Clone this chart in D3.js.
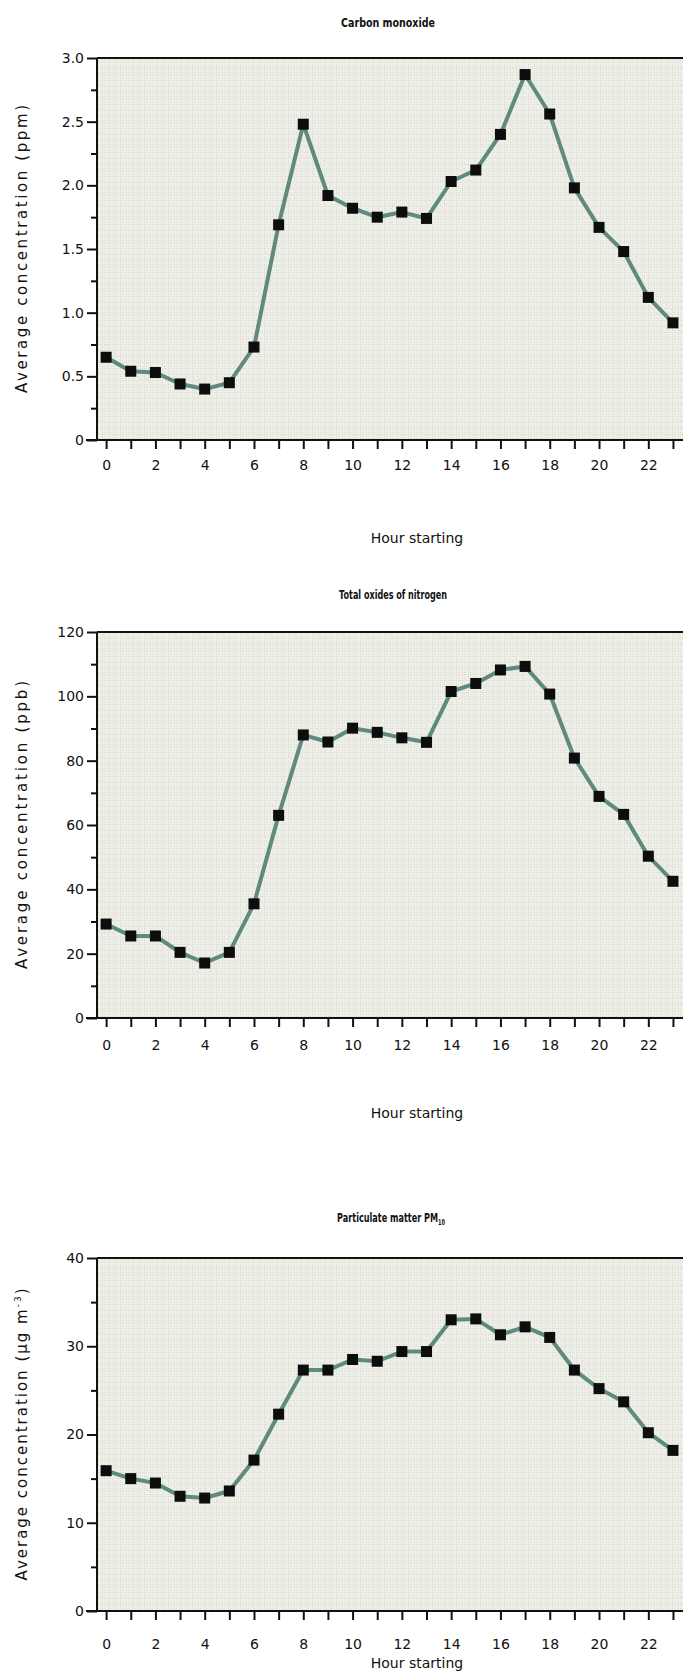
<!DOCTYPE html>
<html>
<head>
<meta charset="utf-8">
<script src="https://cdn.jsdelivr.net/npm/d3@7"></script>
<style>
  html, body { margin: 0; padding: 0; background: #fff; overflow: hidden; }
  svg { display: block; }
  text { font-family: "DejaVu Sans", sans-serif; fill: #111; }
</style>
</head>
<body>
<svg id="chart" width="683" height="1671"></svg>
<script>
// Hour of day (hour starting)
const hours = [0, 1, 2, 3, 4, 5, 6, 7, 8, 9, 10, 11, 12, 13, 14, 15, 16, 17, 18, 19, 20, 21, 22, 23];
const hourTickLabels = [0, 2, 4, 6, 8, 10, 12, 14, 16, 18, 20, 22];

// Carbon monoxide, ppm
const coValues = [0.65, 0.54, 0.53, 0.44, 0.40, 0.45, 0.73, 1.69, 2.48, 1.92, 1.82, 1.75,
                  1.79, 1.74, 2.03, 2.12, 2.40, 2.87, 2.56, 1.98, 1.67, 1.48, 1.12, 0.92];
const coTicks = [0, 0.5, 1.0, 1.5, 2.0, 2.5, 3.0];
const coMinorTicks = [0.25, 0.75, 1.25, 1.75, 2.25, 2.75];

// Total oxides of nitrogen, ppb
const noxValues = [29.2, 25.5, 25.5, 20.4, 17.1, 20.4, 35.5, 63.0, 88.0, 85.8, 90.1, 88.8,
                   87.1, 85.7, 101.5, 104.0, 108.2, 109.3, 100.7, 80.8, 68.9, 63.3, 50.3, 42.5];
const noxTicks = [0, 20, 40, 60, 80, 100, 120];
const noxMinorTicks = [10, 30, 50, 70, 90, 110];

// Particulate matter PM10, µg m-3
const pmValues = [15.9, 15.0, 14.5, 13.0, 12.8, 13.6, 17.1, 22.3, 27.3, 27.3, 28.5, 28.3,
                  29.4, 29.4, 33.0, 33.1, 31.3, 32.2, 31.0, 27.3, 25.2, 23.7, 20.2, 18.2];
const pmTicks = [0, 10, 20, 30, 40];
const pmMinorTicks = [5, 15, 25, 35];

const svg = d3.select("#chart");

// stippled plot background
const defs = svg.append("defs");
const pat = defs.append("pattern")
  .attr("id", "stipple")
  .attr("patternUnits", "userSpaceOnUse")
  .attr("width", 6).attr("height", 6);
pat.append("rect").attr("width", 6).attr("height", 6).attr("fill", "#eef0e8");
[[0,0],[2,0],[0,2],[0,4],[2,2],[4,2]].forEach(([px, py]) =>
  pat.append("rect").attr("x", px).attr("y", py).attr("width", 1).attr("height", 1).attr("fill", "#d6dad0"));

const xLeft = 97, xRight = 705;
const x = d3.scaleLinear().domain([-0.37, 24.3]).range([xLeft, xRight]);

const panels = [
  { title: "Carbon monoxide", titleW: 94, titleX: 388, sub: null,
    unit: "(ppm)", unitSup: null, labelW: 288,
    values: coValues, ticks: coTicks, minor: coMinorTicks, max: 3.0,
    fmt: d => d === 0 ? "0" : d.toFixed(1),
    top: 58, bottom: 440, titleY: 27, hourY: 543, xPad: 11 },
  { title: "Total oxides of nitrogen", titleW: 108, titleX: 393, sub: null,
    unit: "(ppb)", unitSup: null, labelW: 288,
    values: noxValues, ticks: noxTicks, minor: noxMinorTicks, max: 120,
    fmt: d => String(d),
    top: 632, bottom: 1018, titleY: 599, hourY: 1118, xPad: 13 },
  { title: "Particulate matter PM", titleW: 108, titleX: 391, sub: "10",
    unit: "(µg m", unitSup: "-3", labelW: 292,
    values: pmValues, ticks: pmTicks, minor: pmMinorTicks, max: 40,
    fmt: d => String(d),
    top: 1258, bottom: 1611, titleY: 1222, hourY: 1668, xPad: 19 }
];

panels.forEach(p => {
  const g = svg.append("g");
  const y = d3.scaleLinear().domain([0, p.max]).range([p.bottom, p.top]);

  // plot area
  g.append("rect")
    .attr("x", xLeft).attr("y", p.top)
    .attr("width", xRight - xLeft).attr("height", p.bottom - p.top)
    .attr("fill", "url(#stipple)");
  g.append("line")
    .attr("x1", xLeft).attr("x2", xRight).attr("y1", p.top).attr("y2", p.top)
    .attr("stroke", "#111").attr("stroke-width", 2);

  // y axis: major and minor ticks
  const yAxis = g.append("g").attr("transform", `translate(${xLeft},0)`)
    .call(d3.axisLeft(y).tickValues(p.ticks).tickSize(10).tickPadding(3).tickFormat(p.fmt));
  g.append("g").attr("transform", `translate(${xLeft},0)`)
    .call(d3.axisLeft(y).tickValues(p.minor).tickSize(6).tickFormat(""))
    .call(a => a.select(".domain").remove());
  yAxis.select(".domain").attr("stroke", "#111").attr("stroke-width", 2)
    .attr("d", `M0,${p.bottom}V${p.top}`);
  g.selectAll(".tick line").attr("stroke", "#111").attr("stroke-width", 2);
  yAxis.selectAll(".tick text").attr("font-size", 14).attr("fill", "#111");

  // x axis
  const xAxis = g.append("g").attr("transform", `translate(0,${p.bottom})`)
    .call(d3.axisBottom(x).tickValues(hours).tickSize(9).tickPadding(p.xPad)
      .tickFormat(h => hourTickLabels.includes(h) ? String(h) : ""));
  xAxis.select(".domain").attr("stroke", "#111").attr("stroke-width", 2)
    .attr("d", `M${xLeft - 11},0H${xRight}`);
  xAxis.selectAll(".tick line").attr("stroke", "#111").attr("stroke-width", 2);
  xAxis.selectAll(".tick text").attr("font-size", 14).attr("fill", "#111");

  // series line
  const line = d3.line().x((d, i) => x(hours[i])).y(d => y(d));
  g.append("path").datum(p.values)
    .attr("d", line).attr("fill", "none")
    .attr("stroke", "#5f8a7c").attr("stroke-width", 4).attr("stroke-linejoin", "round");

  // square markers
  const s = 11;
  g.selectAll("rect.marker").data(p.values).join("rect")
    .attr("class", "marker")
    .attr("x", (d, i) => x(hours[i]) - s / 2).attr("y", d => y(d) - s / 2)
    .attr("width", s).attr("height", s).attr("fill", "#0d0d0d");

  // title: a narrow bold face, squeezed horizontally to its set width
  const tg = g.append("g");
  const t = tg.append("text").attr("x", 0).attr("y", 0)
    .attr("text-anchor", "middle").attr("font-size", 13).attr("font-weight", "bold")
    .attr("font-family", "'DejaVu Sans Condensed', 'DejaVu Sans', sans-serif")
    .text(p.title);
  if (p.sub) t.append("tspan").attr("font-size", 8).attr("dy", 3).text(p.sub);
  const natural = t.node().getComputedTextLength();
  tg.attr("transform", `translate(${p.titleX},${p.titleY}) scale(${p.titleW / natural},1)`);

  // axis titles
  g.append("text").attr("x", 417).attr("y", p.hourY)
    .attr("text-anchor", "middle").attr("font-size", 14)
    .attr("font-family", "'DejaVu Sans Condensed', 'DejaVu Sans', sans-serif")
    .text("Hour starting");
  const yl = g.append("text")
    .attr("transform", `translate(27,${(p.top + p.bottom) / 2}) rotate(-90)`)
    .attr("text-anchor", "middle").attr("font-size", 15)
    .attr("textLength", p.labelW).attr("lengthAdjust", "spacing")
    .text("Average concentration " + p.unit);
  if (p.unitSup) {
    yl.append("tspan").attr("font-size", 9).attr("dy", -6).text(p.unitSup);
    yl.append("tspan").attr("dy", 6).text(")");
  }
});
</script>
</body>
</html>
